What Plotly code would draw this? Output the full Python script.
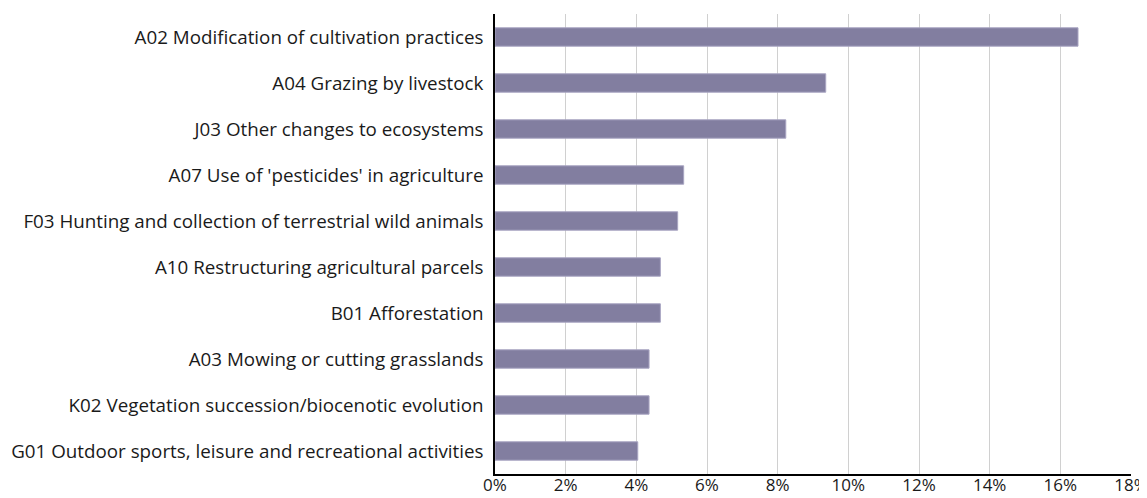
import plotly.graph_objects as go

categories = [
    "A02 Modification of cultivation practices",
    "A04 Grazing by livestock",
    "J03 Other changes to ecosystems",
    "A07 Use of 'pesticides' in agriculture",
    "F03 Hunting and collection of terrestrial wild animals",
    "A10 Restructuring agricultural parcels",
    "B01 Afforestation",
    "A03 Mowing or cutting grasslands",
    "K02 Vegetation succession/biocenotic evolution",
    "G01 Outdoor sports, leisure and recreational activities",
]
values = [16.5, 9.36, 8.23, 5.34, 5.17, 4.68, 4.68, 4.36, 4.36, 4.04]
tick_vals = [0, 2, 4, 6, 8, 10, 12, 14, 16, 18]
tick_text = [f"{v}%" for v in tick_vals]

fig = go.Figure(go.Bar(
    y=categories,
    x=values,
    orientation="h",
    width=0.4,
    marker=dict(color="#827ea0", line=dict(color="#a9a5c2", width=1)),
))

fig.update_layout(
    width=1139, height=490,
    margin=dict(l=487, r=16, t=6, b=24),
    paper_bgcolor="white", plot_bgcolor="white",
    font=dict(family="Open Sans", size=18.8, color="#1a1a1a"),
    showlegend=False,
)
fig.update_xaxes(
    range=[0, 18], tickvals=tick_vals, ticktext=tick_text,
    showgrid=True, gridcolor="#d0d0d0", gridwidth=1,
    showline=True, linecolor="black", linewidth=1.5,
    zeroline=False, ticks="", tickfont=dict(size=17), automargin=False,
    ticklabelstandoff=-5, ticklabeloverflow="allow",
)
fig.update_yaxes(
    autorange="reversed", showgrid=False,
    showline=True, linecolor="black", linewidth=1.5,
    ticks="outside", ticklen=6, tickcolor="white",
    tickfont=dict(size=18.8), automargin=False,
)

fig.write_html("out.html")
